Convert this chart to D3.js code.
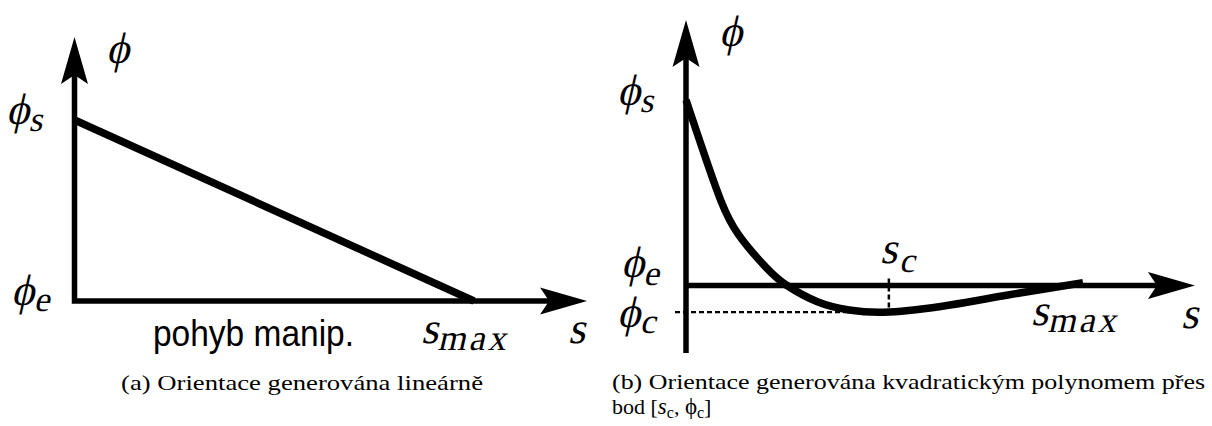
<!DOCTYPE html>
<html>
<head>
<meta charset="utf-8">
<script src="https://cdn.jsdelivr.net/npm/d3@7"></script>
<style>
  html, body { margin: 0; padding: 0; background: #fff; }
  svg { display: block; }
</style>
</head>
<body>
<svg id="chart" width="1212" height="426"></svg>
<script>
// ---- data ------------------------------------------------------------
// s is normalised so that s_max = 1; phi so that phi_e = 0 and phi_s = 1.

// (a) orientation generated linearly from phi_s to phi_e
const linearS   = [0, 1];
const linearPhi = [1, 0];

// (b) orientation generated by a quadratic polynomial through [s_c, phi_c]
const quadS   = [0, 0.0295, 0.058, 0.088, 0.131, 0.2015, 0.2544, 0.3325, 0.4106, 0.511, 0.665, 0.811, 1.0];
const quadPhi = [1, 0.812, 0.633, 0.456, 0.278, 0.098, 0.0, -0.089, -0.132, -0.143, -0.105, -0.051, 0.015];
const sC   = 0.511;
const phiC = -0.143;

// axis extents (data units)
const axisA = { sTip: 1.283, phiTip: 1.459, phiLow: 0 };
const axisB = { sTip: 1.282, phiTip: 1.431, phiLow: -0.364 };

// texts
const xAxisNote = "pohyb manip.";
const captionA  = "(a) Orientace generována lineárně";
const captionB1 = "(b) Orientace generována kvadratickým polynomem přes";
const captionB2 = "bod ";

// ---- drawing ---------------------------------------------------------
const svg  = d3.select("#chart");
const MATH = "'Liberation Serif', 'DejaVu Serif', serif";
const TEXT = "'Liberation Serif', 'DejaVu Serif', serif";
const SANS = "'Liberation Sans', Arial, sans-serif";
const PHI  = "\u03D5";
const SLANT = -13;   // math italic slant (degrees)

const AXIS_W  = 5.5;
const CURVE_W = 7.5;

function arrowHead(g, x, y, angle) {
  g.append("path")
    .attr("d", "M0,0 L-47,-13.5 L-38,0 L-47,13.5 Z")
    .attr("transform", `translate(${x},${y}) rotate(${angle})`)
    .attr("fill", "#000");
}

// slanted serif symbol with optional subscript, anchored at its baseline
function mathText(g, x, y, base, sub, o = {}) {
  const t = g.append("g")
    .attr("transform", `translate(${x},${y}) skewX(${SLANT})`)
    .append("text")
    .attr("x", 0).attr("y", 0)
    .attr("font-family", MATH)
    .attr("font-size", o.size || 44)
    .attr("fill", "#000");
  t.append("tspan").text(base);
  if (sub) {
    t.append("tspan")
      .attr("font-size", o.subSize || 35)
      .attr("dx", o.dx || 1)
      .attr("dy", o.dy || 8)
      .attr("letter-spacing", o.ls || 0)
      .text(sub);
  }
  return t;
}

function axes(g, x, y, ext, join) {
  const line = d3.line().x(d => x(d[0])).y(d => y(d[1]));
  const notchS = x.invert(x(ext.sTip) - 38);
  const notchP = y.invert(y(ext.phiTip) + 38);
  if (join) {
    // L-shaped axes meeting at the origin
    g.append("path")
      .attr("d", line([[0, notchP], [0, 0], [notchS, 0]]))
      .attr("fill", "none").attr("stroke", "#000")
      .attr("stroke-width", AXIS_W).attr("stroke-linejoin", "miter");
  } else {
    g.append("path")
      .attr("d", line([[0, ext.phiLow], [0, notchP]]))
      .attr("fill", "none").attr("stroke", "#000").attr("stroke-width", AXIS_W);
    g.append("path")
      .attr("d", line([[0, 0], [notchS, 0]]))
      .attr("fill", "none").attr("stroke", "#000").attr("stroke-width", AXIS_W);
  }
  arrowHead(g, x(ext.sTip), y(0), 0);
  arrowHead(g, x(0), y(ext.phiTip), -90);
}

function caption(g, x, y, str, width) {
  return g.append("text")
    .attr("x", x).attr("y", y)
    .attr("font-family", TEXT).attr("font-size", 22)
    .attr("textLength", width).attr("lengthAdjust", "spacingAndGlyphs")
    .text(str);
}

// ---------- panel (a) ----------
{
  const g = svg.append("g");
  const x = d3.scaleLinear().domain([0, 1]).range([74.5, 474]);
  const y = d3.scaleLinear().domain([0, 1]).range([301, 120]);

  axes(g, x, y, axisA, true);

  g.append("path")
    .datum(d3.zip(linearS, linearPhi))
    .attr("d", d3.line().x(d => x(d[0])).y(d => y(d[1])))
    .attr("fill", "none").attr("stroke", "#000")
    .attr("stroke-width", CURVE_W).attr("stroke-linecap", "butt");

  mathText(g, 106, 63, PHI);
  mathText(g, 6, 124, PHI, "s", { dy: 7 });
  mathText(g, 11, 305, PHI, "e", { dy: 6 });
  mathText(g, 421, 343, "s", "max", { dy: 7, ls: 3, subSize: 36 });
  mathText(g, 568, 343, "s");

  g.append("text")
    .attr("x", 153).attr("y", 346)
    .attr("font-family", SANS).attr("font-size", 36)
    .attr("textLength", 201).attr("lengthAdjust", "spacingAndGlyphs")
    .text(xAxisNote);

  caption(g, 121, 390, captionA, 362);
}

// ---------- panel (b) ----------
{
  const g = svg.append("g");
  const x = d3.scaleLinear().domain([0, 1]).range([686, 1083]);
  const y = d3.scaleLinear().domain([0, 1]).range([285.5, 100]);

  axes(g, x, y, axisB, false);

  // dashed guides to the extremum [s_c, phi_c]
  g.append("line")
    .attr("x1", x(0) - 11).attr("x2", x(sC))
    .attr("y1", y(phiC)).attr("y2", y(phiC))
    .attr("stroke", "#000").attr("stroke-width", 2.2)
    .attr("stroke-dasharray", "5,3");
  g.append("line")
    .attr("x1", x(sC)).attr("x2", x(sC))
    .attr("y1", y(0) - 7).attr("y2", y(phiC))
    .attr("stroke", "#000").attr("stroke-width", 2.5)
    .attr("stroke-dasharray", "5,3");

  g.append("path")
    .datum(d3.zip(quadS, quadPhi))
    .attr("d", d3.line().x(d => x(d[0])).y(d => y(d[1])).curve(d3.curveNatural))
    .attr("fill", "none").attr("stroke", "#000")
    .attr("stroke-width", CURVE_W).attr("stroke-linecap", "butt");

  mathText(g, 719, 46, PHI);
  mathText(g, 617, 105, PHI, "s", { dy: 7 });
  mathText(g, 621, 277, PHI, "e", { dy: 8 });
  mathText(g, 617, 327, PHI, "c", { dy: 6 });
  mathText(g, 880, 263, "s", "c", { dy: 9, dx: 4 });
  mathText(g, 1031, 325, "s", "max", { dy: 7, ls: 3, subSize: 36 });
  mathText(g, 1181, 328, "s");

  caption(g, 612, 389, captionB1, 593);

  const t2 = g.append("text")
    .attr("x", 612).attr("y", 414)
    .attr("font-family", TEXT).attr("font-size", 22);
  t2.append("tspan").text(captionB2 + "[");
  t2.append("tspan").attr("font-size", 23).attr("font-style", "oblique").text("s");
  t2.append("tspan").attr("font-size", 16).attr("dy", 4).text("c");
  t2.append("tspan").attr("dy", -4).text(", ");
  t2.append("tspan").attr("font-size", 23).text(PHI);
  t2.append("tspan").attr("font-size", 16).attr("dy", 4).text("c");
  t2.append("tspan").attr("dy", -4).text("]");
}
</script>
</body>
</html>
